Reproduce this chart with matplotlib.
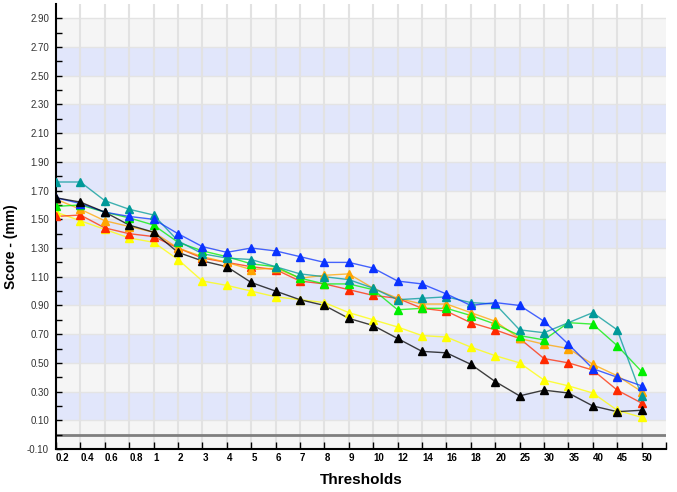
import matplotlib

matplotlib.use("Agg")
import matplotlib.pyplot as plt
import numpy as np

# %%
thresholds = ["0.2", "0.4", "0.6", "0.8", "1", "2", "3", "4", "5", "6", "7", "8", "9",
              "10", "12", "14", "16", "18", "20", "25", "30", "35", "40", "45", "50"]

teal = [1.76, 1.76, 1.63, 1.57, 1.53, 1.35, 1.26, 1.23, 1.22, 1.17, 1.12, 1.10, 1.08,
        1.02, 0.94, 0.95, 0.96, 0.92, 0.91, 0.73, 0.71, 0.78, 0.85, 0.73, 0.27]
blue = [1.65, 1.61, 1.55, 1.52, 1.50, 1.40, 1.31, 1.27, 1.30, 1.28, 1.24, 1.20, 1.20,
        1.16, 1.07, 1.05, 0.98, 0.90, 0.92, 0.90, 0.79, 0.63, 0.46, 0.40, 0.34]
green = [1.59, 1.60, 1.55, 1.51, 1.46, 1.34, 1.28, 1.24, 1.19, 1.17, 1.09, 1.05, 1.05,
         1.01, 0.87, 0.88, 0.88, 0.83, 0.77, 0.69, 0.66, 0.78, 0.77, 0.62, 0.44]
orange = [1.64, 1.57, 1.49, 1.45, 1.41, 1.30, 1.24, 1.20, 1.15, 1.16, 1.09, 1.11, 1.12,
          1.02, 0.95, 0.91, 0.91, 0.85, 0.79, 0.67, 0.63, 0.60, 0.49, 0.41, 0.30]
red = [1.52, 1.53, 1.44, 1.40, 1.38, 1.30, 1.23, 1.20, 1.17, 1.15, 1.07, 1.05, 1.01,
       0.97, 0.95, 0.88, 0.86, 0.78, 0.73, 0.67, 0.53, 0.50, 0.45, 0.31, 0.22]
yellow = [1.55, 1.49, 1.43, 1.37, 1.34, 1.22, 1.07, 1.04, 1.00, 0.96, 0.94, 0.92, 0.85,
          0.80, 0.75, 0.69, 0.68, 0.61, 0.55, 0.50, 0.38, 0.34, 0.29, 0.17, 0.12]
black = [1.65, 1.62, 1.55, 1.46, 1.41, 1.27, 1.21, 1.17, 1.06, 1.00, 0.94, 0.90, 0.81,
         0.76, 0.67, 0.58, 0.57, 0.49, 0.37, 0.27, 0.31, 0.29, 0.20, 0.16, 0.17]

series = [
    (yellow, "#ffff00"),
    (red, "#ff2a00"),
    (orange, "#ffa500"),
    (green, "#00ee00"),
    (teal, "#009999"),
    (blue, "#0a32ff"),
    (black, "#000000"),
]

# %%
plt.rcParams["font.family"] = ["Liberation Sans", "DejaVu Sans"]

fig = plt.figure(figsize=(6.77, 4.92), dpi=100)
ax = fig.add_axes([56 / 677, 1 - 449 / 492, 610 / 677, 445 / 492])

x = np.arange(len(thresholds))

# background bands
for k in range(15):
    lo = -0.1 + 0.2 * k
    ax.axhspan(lo, lo + 0.2, color="#f5f5f5" if k % 2 == 0 else "#e1e6fb", lw=0, zorder=0)
for yv in np.arange(0.1, 2.95, 0.2):
    ax.axhline(yv, color="#e4e4e4", lw=1.0, zorder=0.5)
for xv in range(1, len(thresholds)):
    ax.axvline(xv, color="#e2e2e2", lw=1.5, zorder=0.5)
ax.axhline(0.0, color="#7f7f7f", lw=2.0, zorder=1)

for vals, col in series:
    ax.plot(x, vals, color=col, lw=1.0, alpha=0.75, zorder=2)
    ax.plot(x, vals, ls="none", marker="^", ms=5.5, color=col, mec=col, zorder=3)

ax.set_xlim(0, len(thresholds))
ax.set_ylim(-0.1, 3.0)

ax.set_xticks(np.arange(len(thresholds) + 1))
ax.set_xticklabels(thresholds + [""], fontsize=7, fontweight="bold", ha="left")
ax.set_yticks(np.arange(-0.1, 2.95, 0.2))
ax.set_yticklabels([f"{v:.2f}" for v in np.arange(-0.1, 2.95, 0.2)], fontsize=7, color="#333333")
ax.set_yticks(np.arange(0.0, 2.95, 0.2), minor=True)
ax.tick_params(axis="x", direction="in", length=5, width=1, pad=3)
ax.tick_params(axis="y", which="both", direction="in", length=4, width=1, pad=5)

for side in ["top", "right"]:
    ax.spines[side].set_visible(False)
ax.spines["left"].set_linewidth(1.5)
ax.spines["bottom"].set_linewidth(1.5)

ax.set_xlabel("Thresholds", fontsize=11, fontweight="bold")
ax.xaxis.set_label_coords(0.5, -0.054)
ax.set_ylabel("Score - (mm)", fontsize=10, fontweight="bold")
ax.yaxis.set_label_coords(-0.062, 0.454)

fig.savefig("out.png", dpi=100)
